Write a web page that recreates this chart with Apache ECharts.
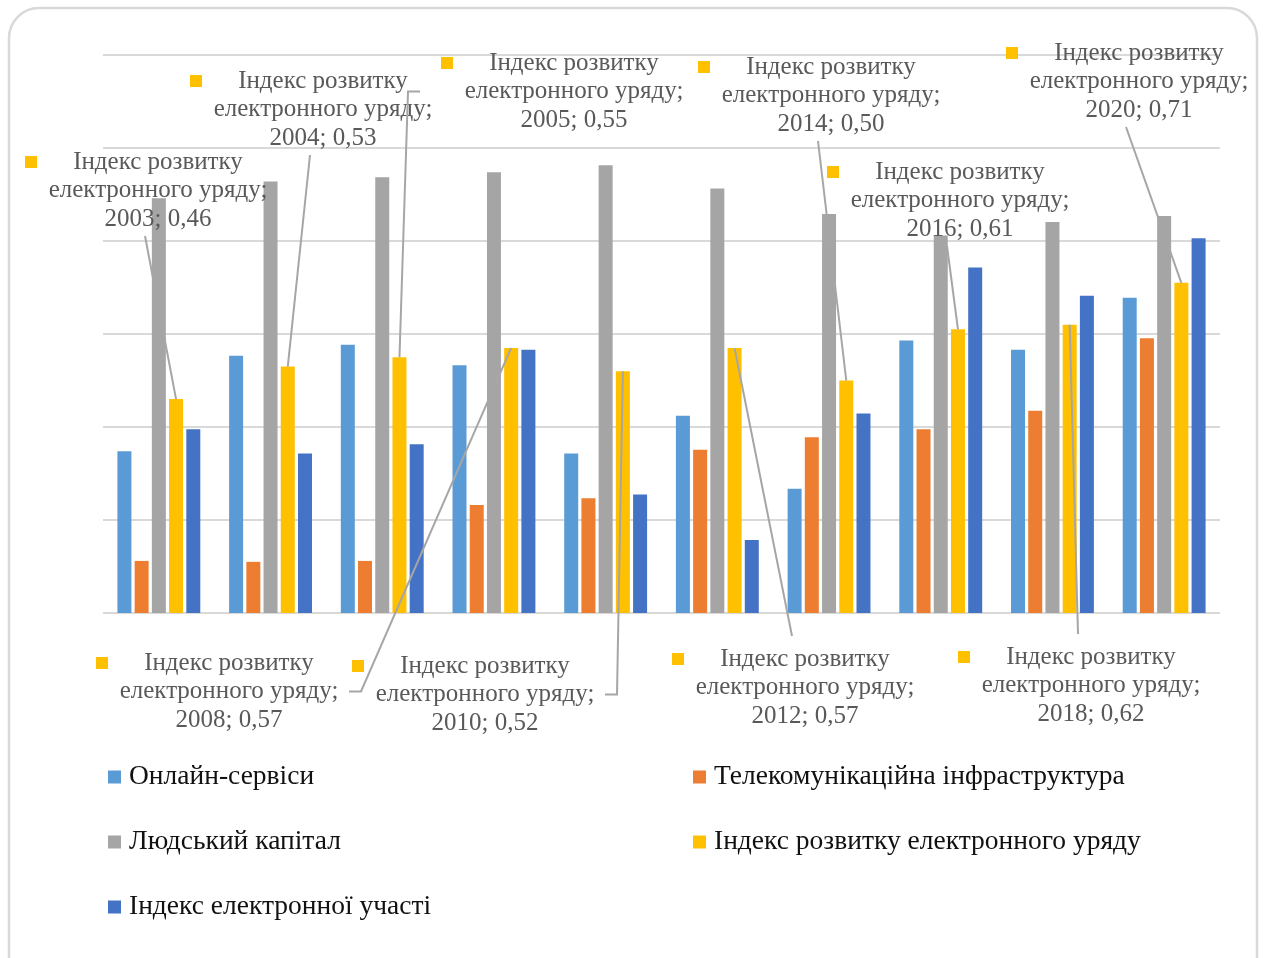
<!DOCTYPE html>
<html>
<head>
<meta charset="utf-8">
<title>Індекс розвитку електронного уряду</title>
<script src="https://cdn.jsdelivr.net/npm/echarts@6/dist/echarts.min.js"></script>
<style>
  html, body { margin: 0; padding: 0; background: #ffffff; }
  #chart { width: 1267px; height: 958px; }
</style>
</head>
<body>
<div id="chart"></div>
<script>
// Years of the survey
const years = ['2003', '2004', '2005', '2008', '2010', '2012', '2014', '2016', '2018', '2020'];

// Component indices
const onlineServices = [0.348, 0.553, 0.577, 0.533, 0.343, 0.424, 0.267, 0.586, 0.566, 0.678];
const telecomInfra   = [0.112, 0.110, 0.112, 0.232, 0.247, 0.351, 0.378, 0.395, 0.435, 0.591];
const humanCapital   = [0.892, 0.928, 0.937, 0.948, 0.963, 0.913, 0.858, 0.812, 0.841, 0.854];
const egovIndex      = [0.46, 0.53, 0.55, 0.57, 0.52, 0.57, 0.50, 0.61, 0.62, 0.71];
const eParticipation = [0.395, 0.343, 0.363, 0.566, 0.255, 0.157, 0.429, 0.743, 0.682, 0.806];

const seriesNames = [
  'Онлайн-сервіси',
  'Телекомунікаційна інфраструктура',
  'Людський капітал',
  'Індекс розвитку електронного уряду',
  'Індекс електронної участі'
];
const palette = ['#5B9BD5', '#ED7D31', '#A5A5A5', '#FFC000', '#4472C4'];

// Placement of the callouts for the e-government index:
// cx = centre of the text column, cy = centre of the first text line,
// side = edge of the callout box the leader line attaches to.
const calloutLayout = [
  { cx: 158,  cy: 162, side: 'bottom' },
  { cx: 323,  cy: 81,  side: 'bottom' },
  { cx: 574,  cy: 63,  side: 'left' },
  { cx: 229,  cy: 663, side: 'right' },
  { cx: 485,  cy: 666, side: 'right' },
  { cx: 805,  cy: 659, side: 'top' },
  { cx: 831,  cy: 67,  side: 'bottom' },
  { cx: 960,  cy: 172, side: 'bottom' },
  { cx: 1091, cy: 657, side: 'top' },
  { cx: 1139, cy: 53,  side: 'bottom' }
];

const BAR_W = 14;
const BAR_GAP = 0.23;
// the e-government bar is the 4th of 5 in each group: one slot right of centre
const EGOV_SHIFT = BAR_W * (1 + BAR_GAP) * (3 - 2);

const SERIF = '"Liberation Serif", "Times New Roman", serif';
const LABEL_SIZE = 25;
const LINE_H = 28.5;
const KEY_W = 12;
const COL_W = 242;

function fmt(v) { return v.toFixed(2).replace('.', ','); }

function calloutText(year, v) {
  return '{k|}{a|Індекс розвитку}\n' +
         '{s|}{a|електронного уряду;}\n' +
         '{s|}{a|' + year + '; ' + fmt(v) + '}';
}

const chart = echarts.init(document.getElementById('chart'), null, { renderer: 'canvas' });

const barSeries = [onlineServices, telecomInfra, humanCapital, egovIndex, eParticipation].map((arr, i) => ({
  name: seriesNames[i],
  type: 'bar',
  data: arr,
  barWidth: BAR_W,
  barGap: (BAR_GAP * 100) + '%',
  itemStyle: { color: palette[i] },
  emphasis: { disabled: true }
}));

const calloutSeries = {
  name: 'callouts',
  type: 'custom',
  silent: true,
  z: 5,
  data: egovIndex.map((v, i) => [i, v]),
  encode: { x: 0, y: 1 },
  renderItem: function (params, api) {
    const idx = params.dataIndex;
    const v = api.value(1);
    const p = api.coord([api.value(0), v]);
    const bx = p[0] + EGOV_SHIFT;
    const by = p[1];
    const c = calloutLayout[idx];

    // callout box in pixels, derived from the text column
    const boxCx = c.cx - 13;
    const boxTop = c.cy - 23;
    const boxBottom = c.cy + 74;
    const boxLeft = c.cx - 154;
    const boxRight = c.cx + 120;
    const midY = c.cy + LINE_H;

    let pts;
    if (c.side === 'bottom') pts = [[bx, by], [boxCx, boxBottom]];
    else if (c.side === 'top') pts = [[bx, by], [boxCx, boxTop]];
    else if (c.side === 'right') pts = [[bx, by], [boxRight + 12, midY], [boxRight, midY]];
    else pts = [[bx, by], [boxLeft - 12, midY], [boxLeft, midY]];

    return {
      type: 'group',
      children: [
        {
          type: 'polyline',
          shape: { points: pts },
          style: { stroke: '#A6A6A6', lineWidth: 2, fill: null }
        },
        {
          type: 'text',
          style: {
            x: c.cx - COL_W / 2 - KEY_W,
            y: c.cy - LINE_H / 2,
            align: 'left',
            verticalAlign: 'top',
            text: calloutText(years[idx], v),
            fill: '#595959',
            fontFamily: SERIF,
            fontSize: LABEL_SIZE,
            lineHeight: LINE_H,
            rich: {
              k: { width: KEY_W, height: KEY_W, backgroundColor: '#FFC000', lineHeight: LINE_H },
              s: { width: KEY_W, height: KEY_W, lineHeight: LINE_H },
              a: {
                width: COL_W, align: 'center', fill: '#595959',
                fontFamily: SERIF, fontSize: LABEL_SIZE, lineHeight: LINE_H
              }
            }
          }
        }
      ]
    };
  }
};

const legendText = {
  color: '#111111',
  fontFamily: SERIF,
  fontSize: 27.5,
  lineHeight: 30,
  padding: [0, 0, 0, 3]
};

const legendBase = {
  orient: 'vertical',
  top: 762,
  padding: 0,
  itemWidth: 13,
  itemHeight: 13,
  itemGap: 35,
  icon: 'rect',
  selectedMode: false,
  textStyle: legendText
};

const option = {
  animation: false,
  backgroundColor: '#ffffff',
  graphic: [{
    type: 'rect',
    silent: true,
    shape: { x: 9, y: 8, width: 1248, height: 990, r: 30 },
    style: { fill: null, stroke: '#D9D9D9', lineWidth: 2.5 }
  }],
  grid: { left: 103, right: 47, top: 55, bottom: 345, containLabel: false },
  xAxis: {
    type: 'category',
    data: years,
    axisLine: { show: false },
    axisTick: { show: false },
    axisLabel: { show: false }
  },
  yAxis: {
    type: 'value',
    min: 0,
    max: 1.2,
    interval: 0.2,
    axisLine: { show: false },
    axisTick: { show: false },
    axisLabel: { show: false },
    splitLine: { lineStyle: { color: '#D9D9D9', width: 2 } }
  },
  legend: [
    Object.assign({}, legendBase, {
      data: [seriesNames[0], seriesNames[2], seriesNames[4]],
      left: 108
    }),
    Object.assign({}, legendBase, {
      data: [seriesNames[1], seriesNames[3]],
      left: 693
    })
  ],
  series: barSeries.concat([calloutSeries])
};

chart.setOption(option);
</script>
</body>
</html>
